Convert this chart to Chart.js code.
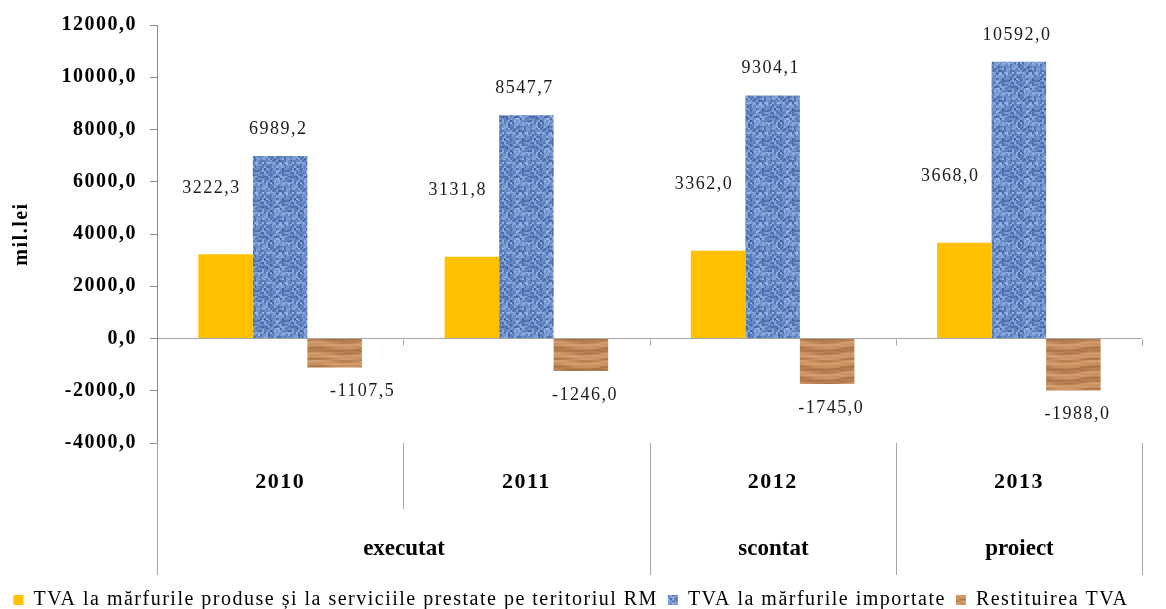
<!DOCTYPE html>
<html>
<head>
<meta charset="utf-8">
<script src="https://cdn.jsdelivr.net/npm/chart.js@4.4.1/dist/chart.umd.min.js"></script>
<style>
  html, body { margin: 0; padding: 0; background: #fff; overflow: hidden; }
  #wrap { position: relative; width: 1166px; height: 620px; }
</style>
</head>
<body>
<div id="wrap"><canvas id="chart"></canvas></div>
<script>
// ── Data ──────────────────────────────────────────────────────────────────────
const years       = ['2010', '2011', '2012', '2013'];
const groupLabels = ['executat', 'scontat', 'proiect'];
const groupSpans  = [2, 1, 1];
const seriesNames = [
  'TVA la mărfurile produse și la serviciile prestate pe teritoriul RM',
  'TVA la mărfurile importate',
  'Restituirea TVA'
];
const tvaIntern   = [3222.3, 3131.8, 3362.0, 3668.0];
const tvaImport   = [6989.2, 8547.7, 9304.1, 10592.0];
const restituire  = [-1107.5, -1246.0, -1745.0, -1988.0];
const yMin = -4000, yMax = 12000, yStep = 2000;

const SERIF = '"Liberation Serif", "Times New Roman", serif';
const LINE  = '#a6a6a6';

// ── Bar textures ──────────────────────────────────────────────────────────────
function hash(x, y) {
  const s = Math.sin(x * 127.1 + y * 311.7) * 43758.5453;
  return s - Math.floor(s);
}
function mix(a, b, t) {
  t = Math.max(0, Math.min(1, t));
  return a.map((v, i) => Math.round(v + (b[i] - v) * t));
}
function makeTexture(w, h, dark, light, shade) {
  const c = document.createElement('canvas');
  c.width = w; c.height = h;
  const g = c.getContext('2d');
  for (let y = 0; y < h; y++) {
    for (let x = 0; x < w; x++) {
      const [r, gg, b] = mix(dark, light, shade(x, y));
      g.fillStyle = `rgb(${r},${gg},${b})`;
      g.fillRect(x, y, 1, 1);
    }
  }
  return g.createPattern(c, 'repeat');
}
const blueWeave = makeTexture(30, 30, [44, 78, 150], [170, 202, 246], (x, y) => {
  const cell = hash(Math.floor(x / 2), Math.floor(y / 2));
  const fine = hash(x + 7, y + 3);
  const warp = ((Math.floor(x / 3) + Math.floor(y / 3)) % 2) ? 0.08 : -0.08;
  return 0.5 + warp + 0.55 * (cell - 0.5) + 0.2 * (fine - 0.5);
});
const brownWood = makeTexture(60, 30, [150, 95, 52], [226, 172, 122], (x, y) => {
  return 0.55 + 0.22 * Math.sin(y * 0.55 + 0.9 * Math.sin(x * 0.105)) +
         0.1 * Math.sin(y * 1.7 + x * 0.05) + 0.08 * (hash(x >> 2, y) - 0.5);
});

// ── Plugins ───────────────────────────────────────────────────────────────────
const spacing = {
  id: 'spacing',
  beforeUpdate(chart) { chart.ctx.letterSpacing = '1.5px'; },
  beforeDraw(chart)   { chart.ctx.letterSpacing = '1.5px'; }
};

const labelDx = [-14, -2, 4];
const labelDy = [-66, -27, 24];
const valueLabels = {
  id: 'valueLabels',
  afterDatasetsDraw(chart) {
    const ctx = chart.ctx;
    ctx.save();
    ctx.font = `18px ${SERIF}`;
    ctx.fillStyle = '#1a1a1a';
    ctx.textAlign = 'center';
    ctx.textBaseline = 'middle';
    chart.data.datasets.forEach((ds, di) => {
      chart.getDatasetMeta(di).data.forEach((bar, i) => {
        let dx = labelDx[di];
        if (di === 2 && i === 0) dx += 24;
        ctx.fillText(ds.data[i].toFixed(1).replace('.', ','), bar.x + dx, bar.y + labelDy[di]);
      });
    });
    ctx.restore();
  }
};

const groupAxis = {
  id: 'groupAxis',
  afterDraw(chart) {
    const { ctx, chartArea: ca } = chart;
    const xs = chart.scales.x, ys = chart.scales.y;
    const n = years.length;
    const step = xs.getPixelForTick(1) - xs.getPixelForTick(0);
    const edge = i => Math.round(xs.getPixelForTick(0) - step / 2 + i * step) + 0.5;
    const y0 = Math.round(ys.getPixelForValue(0)) + 0.5;
    const ends = new Set([0]);
    let acc = 0;
    groupSpans.forEach(s => { acc += s; ends.add(acc); });

    ctx.save();
    ctx.strokeStyle = LINE;
    ctx.lineWidth = 1;
    ctx.beginPath();
    for (let i = 1; i <= n; i++) {
      ctx.moveTo(edge(i), y0);
      ctx.lineTo(edge(i), y0 + 6);
    }
    for (let i = 0; i <= n; i++) {
      const bottom = ends.has(i) ? ca.bottom + 132 : ca.bottom + 66;
      ctx.moveTo(edge(i), ca.bottom);
      ctx.lineTo(edge(i), bottom);
    }
    ctx.stroke();

    ctx.letterSpacing = '0px';
    ctx.font = `bold 23px ${SERIF}`;
    ctx.fillStyle = '#000';
    ctx.textAlign = 'center';
    ctx.textBaseline = 'alphabetic';
    let start = 0;
    groupLabels.forEach((lab, gi) => {
      const end = start + groupSpans[gi];
      ctx.fillText(lab, (edge(start) + edge(end)) / 2, ca.bottom + 112);
      start = end;
    });
    ctx.restore();
  }
};

// ── Chart ─────────────────────────────────────────────────────────────────────
new Chart(document.getElementById('chart'), {
  type: 'bar',
  data: {
    labels: years,
    datasets: [
      { label: seriesNames[0], data: tvaIntern,  backgroundColor: '#ffc000' },
      { label: seriesNames[1], data: tvaImport,  backgroundColor: blueWeave },
      { label: seriesNames[2], data: restituire, backgroundColor: brownWood }
    ].map(d => Object.assign(d, { borderWidth: 0, categoryPercentage: 0.664, barPercentage: 1 }))
  },
  options: {
    responsive: true, maintainAspectRatio: false, animation: false,
    layout: { padding: { top: 24, right: 24, left: 0, bottom: 0 } },
    plugins: {
      legend: {
        position: 'bottom',
        labels: { font: { family: SERIF, size: 20 }, color: '#000', boxWidth: 10, boxHeight: 10, padding: 10 }
      },
      tooltip: { enabled: false }
    },
    scales: {
      x: {
        grid: { display: false, drawTicks: false },
        border: { display: false },
        ticks: { font: { family: SERIF, size: 22, weight: 'bold' }, color: '#000', padding: 26 },
        afterFit: s => { s.height = 137; }
      },
      y: {
        min: yMin, max: yMax,
        ticks: {
          stepSize: yStep, color: '#000', padding: 13,
          font: { family: SERIF, size: 20, weight: 'bold' },
          callback: v => v.toFixed(1).replace('.', ',')
        },
        grid: {
          color: c => (c.tick && c.tick.value === 0 ? LINE : 'transparent'),
          tickColor: '#8c8c8c', tickLength: 7
        },
        border: { color: '#8c8c8c' },
        title: {
          display: true, text: 'mil.lei', color: '#000',
          font: { family: SERIF, size: 20, weight: 'bold' },
          padding: { top: 10, bottom: 0 }
        },
        afterFit: s => { s.width = 157; }
      }
    }
  },
  plugins: [spacing, valueLabels, groupAxis]
});
</script>
</body>
</html>
